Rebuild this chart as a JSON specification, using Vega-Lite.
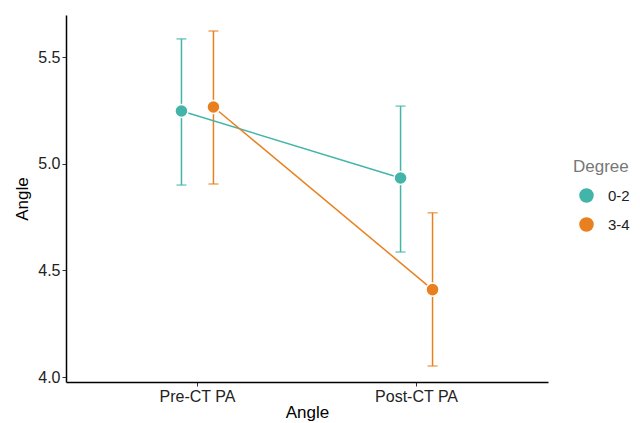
{
  "$schema": "https://vega.github.io/schema/vega-lite/v6.json",
  "autosize": {"type": "none"},
  "padding": {"left": 66, "top": 15, "right": 92, "bottom": 41},
  "width": 482,
  "height": 367,
  "background": "white",
  "config": {
    "view": {"stroke": null},
    "font": "Liberation Sans",
    "axis": {
      "grid": false,
      "domainColor": "black",
      "domainWidth": 1.5,
      "tickColor": "#333",
      "tickSize": 4,
      "labelColor": "#222",
      "labelFontSize": 16,
      "titleFontSize": 17,
      "titleFontWeight": "normal",
      "titleColor": "black",
      "labelPadding": 2
    }
  },
  "data": {
    "values": [
      {"time": "Pre-CT PA", "degree": "0-2", "mean": 5.247, "lo": 4.9, "hi": 5.585},
      {"time": "Pre-CT PA", "degree": "3-4", "mean": 5.266, "lo": 4.905, "hi": 5.622},
      {"time": "Post-CT PA", "degree": "0-2", "mean": 4.933, "lo": 4.586, "hi": 5.27},
      {"time": "Post-CT PA", "degree": "3-4", "mean": 4.41, "lo": 4.052, "hi": 4.77}
    ]
  },
  "encoding": {
    "x": {
      "field": "time",
      "type": "nominal",
      "sort": ["Pre-CT PA", "Post-CT PA"],
      "scale": {"paddingInner": 0.708, "paddingOuter": 0.454},
      "axis": {"title": "Angle", "labelAngle": 0, "titlePadding": 0}
    },
    "xOffset": {"field": "degree", "type": "nominal", "sort": ["0-2", "3-4"]},
    "color": {
      "field": "degree",
      "type": "nominal",
      "scale": {"domain": ["0-2", "3-4"], "range": ["#42B5A8", "#E8801F"]},
      "legend": {
        "title": "Degree",
        "orient": "none",
        "legendX": 507,
        "legendY": 144,
        "titleFontSize": 17,
        "titleFontWeight": "normal",
        "titleColor": "#777",
        "labelFontSize": 15,
        "labelColor": "#222",
        "symbolType": "circle",
        "symbolSize": 170,
        "symbolOpacity": 1,
        "symbolFillOpacity": 1,
        "symbolStrokeColor": "white",
        "symbolOffset": 6,
        "rowPadding": 8,
        "titlePadding": 12,
        "labelOffset": 14
      }
    }
  },
  "layer": [
    {
      "mark": {"type": "rule", "strokeWidth": 1.5},
      "encoding": {
        "y": {
          "field": "lo",
          "type": "quantitative",
          "scale": {"domain": [3.977, 5.697], "nice": false, "zero": false},
          "axis": {"title": "Angle", "values": [4, 4.5, 5, 5.5], "format": ".1f", "titlePadding": 6}
        },
        "y2": {"field": "hi"}
      }
    },
    {
      "mark": {"type": "tick", "size": 10, "thickness": 1.5},
      "encoding": {"y": {"field": "lo", "type": "quantitative"}}
    },
    {
      "mark": {"type": "tick", "size": 10, "thickness": 1.5},
      "encoding": {"y": {"field": "hi", "type": "quantitative"}}
    },
    {
      "mark": {"type": "line", "strokeWidth": 1.5},
      "encoding": {"y": {"field": "mean", "type": "quantitative"}}
    },
    {
      "mark": {"type": "point", "filled": true, "size": 170, "opacity": 1, "stroke": "white", "strokeWidth": 1.5},
      "encoding": {
        "y": {"field": "mean", "type": "quantitative"}
      }
    }
  ]
}
